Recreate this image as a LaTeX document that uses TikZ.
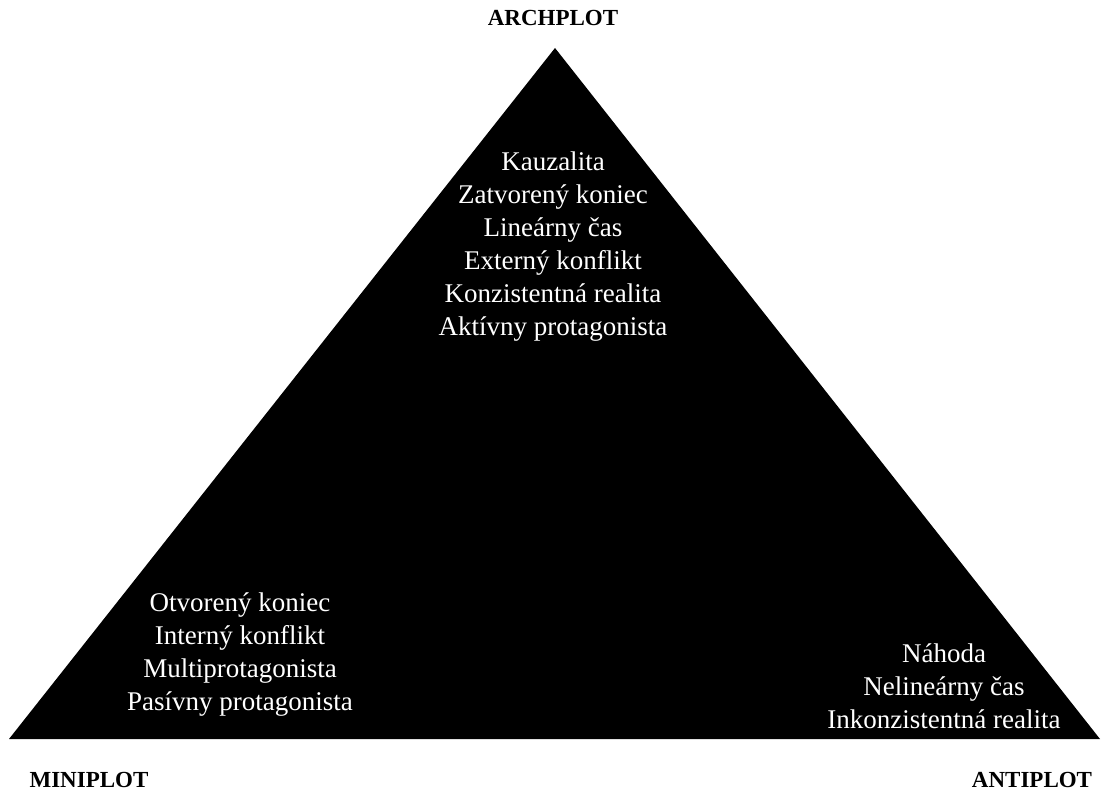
\documentclass[tikz,border=0pt]{standalone}
\usepackage{fontspec}
\setmainfont{Liberation Serif}
\usetikzlibrary{positioning}

\begin{document}
\begin{tikzpicture}[x=1pt, y=-1pt,
    corner/.style={font=\fontsize{23}{33}\selectfont\bfseries, inner sep=0pt},
    traits/.style={font=\fontsize{27}{33}\selectfont, text=white, align=center, inner sep=0pt},
]
\useasboundingbox (0,0) rectangle (1105,792);

% the triangle
\coordinate (apex) at (555,48);
\coordinate (left) at (9,739);
\coordinate (right) at (1100,739);
\fill[black] (apex) -- (left) -- (right) -- cycle;

\node[traits] (arch) at (553,247) {Kauzalita\\Zatvorený koniec\\Lineárny čas\\Externý konflikt\\Konzistentná realita\\Aktívny protagonista};
\node[traits] (mini) at (240,655) {Otvorený koniec\\Interný konflikt\\Multiprotagonista\\Pasívny protagonista};
\node[traits] (anti) at (944,686) {Náhoda\\Nelineárny čas\\Inkonzistentná realita};

\node[corner] (archlabel) at (553,18) {ARCHPLOT};
\node[corner] (minilabel) at (89,780) {MINIPLOT};
\node[corner] (antilabel) at (1032,780) {ANTIPLOT};

\end{tikzpicture}
\end{document}
